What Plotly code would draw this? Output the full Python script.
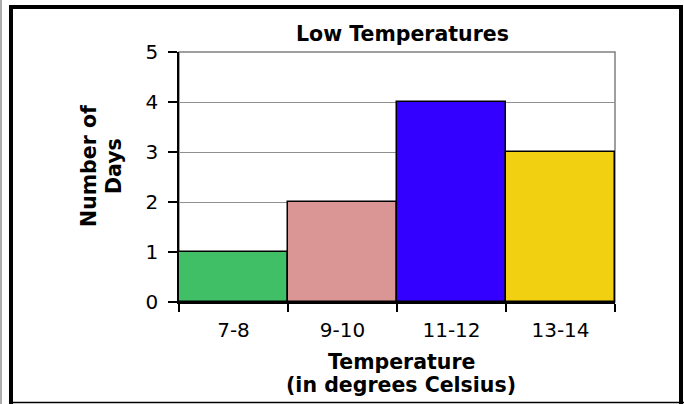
import plotly.graph_objects as go

categories = ["7-8", "9-10", "11-12", "13-14"]
days = [1, 2, 4, 3]
bar_colors = ["#41bf67", "#da9694", "#3300ff", "#f0d010"]
y_ticks = [0, 1, 2, 3, 4, 5]

W, H = 684, 404
L, R, T, B = 179, 69, 52, 102
PW, PH = W - L - R, H - T - B

def px(x):
    return (x - L) / PW

def py(y):
    return (H - B - y) / PH

FONT = "DejaVu Sans"
TITLE_SIZE = 20.5
TICK_SIZE = 20

fig = go.Figure()
fig.add_trace(go.Bar(
    x=categories, y=days,
    marker=dict(color=bar_colors, line=dict(color="black", width=1.5)),
    width=1.0,
))

shapes = [
    dict(type="rect", xref="paper", yref="paper", x0=0, y0=0, x1=1, y1=1,
         line=dict(color="#808080", width=1.5), layer="below"),
    dict(type="rect", xref="paper", yref="paper", x0=px(11), y0=py(7), x1=px(681), y1=py(430),
         line=dict(color="black", width=4)),
    dict(type="line", xref="paper", yref="paper", x0=px(11), y0=py(402.5), x1=px(684), y1=py(402.5),
         line=dict(color="black", width=1.5)),
    dict(type="line", xref="paper", yref="paper", x0=px(1), y0=py(0), x1=px(1), y1=py(404),
         line=dict(color="#909090", width=1.5)),
]

def ann(text, x, y, angle=0):
    return dict(text="<b>%s</b>" % text, xref="paper", yref="paper", x=px(x), y=py(y),
                showarrow=False, textangle=angle,
                font=dict(family=FONT, size=TITLE_SIZE, color="black"),
                xanchor="center", yanchor="middle")

annotations = [
    ann("Low Temperatures", 402, 34),
    ann("Number of", 89, 166, -90),
    ann("Days", 114, 166, -90),
    ann("Temperature", 401, 362),
    ann("(in degrees Celsius)", 401, 385),
]

fig.update_layout(
    width=W, height=H,
    margin=dict(l=L, r=R, t=T, b=B, pad=0),
    paper_bgcolor="white", plot_bgcolor="white",
    bargap=0, showlegend=False,
    shapes=shapes, annotations=annotations,
    font=dict(family=FONT, size=TICK_SIZE, color="black"),
)
fig.update_xaxes(
    type="category", tickson="boundaries", ticks="outside", ticklen=8, tickwidth=1.5, tickcolor="black",
    showline=True, linecolor="black", linewidth=1.5, showgrid=False,
    tickfont=dict(family=FONT, size=TICK_SIZE, color="black"), ticklabelstandoff=9,
    range=[-0.5, 3.5],
)
fig.update_yaxes(
    range=[0, 5], tickvals=y_ticks, ticks="outside", ticklen=9, tickwidth=1.5, tickcolor="black",
    showline=True, linecolor="black", linewidth=1.5,
    showgrid=True, gridcolor="#909090", gridwidth=1, zeroline=False,
    tickfont=dict(family=FONT, size=TICK_SIZE, color="black"), ticklabelstandoff=6,
)

fig.write_html("out.html")
